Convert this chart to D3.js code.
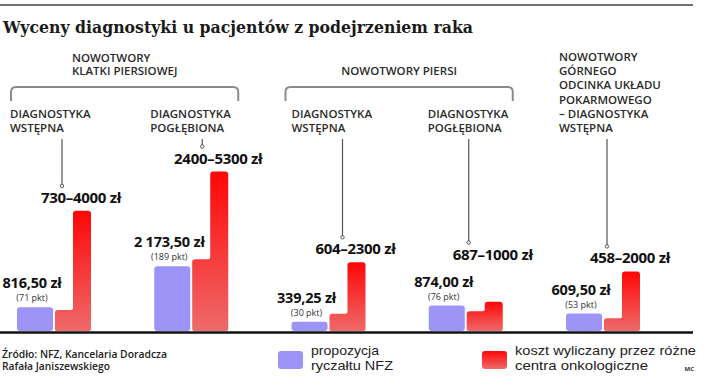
<!DOCTYPE html>
<html><head><meta charset="utf-8">
<script src="https://cdn.jsdelivr.net/npm/d3@7"></script>
<style>
html,body{margin:0;padding:0;background:#fff;}
svg{display:block;}
text{font-family:"Open Sans",sans-serif;}
</style></head>
<body>
<svg id="chart" width="716" height="390"></svg>
<script>
// ---- data ----
const title = "Wyceny diagnostyki u pacjentów z podejrzeniem raka";
const categoryIds = ["klatka-wstepna","klatka-poglebiona","piersi-wstepna","piersi-poglebiona","gorny-wstepna"];
const categoryLabels = [
  ["DIAGNOSTYKA","WSTĘPNA"],
  ["DIAGNOSTYKA","POGŁĘBIONA"],
  ["DIAGNOSTYKA","WSTĘPNA"],
  ["DIAGNOSTYKA","POGŁĘBIONA"],
  ["NOWOTWORY","GÓRNEGO","ODCINKA UKŁADU","POKARMOWEGO","– DIAGNOSTYKA","WSTĘPNA"]
];
const groupNames = [["NOWOTWORY","KLATKI PIERSIOWEJ"],["NOWOTWORY PIERSI"]];
const groupMembers = [[0,1],[2,3]];
const nfzValues = [816.50, 2173.50, 339.25, 874.00, 609.50];
const nfzLabels = ["816,50 zł","2 173,50 zł","339,25 zł","874,00 zł","609,50 zł"];
const nfzPoints = ["(71 pkt)","(189 pkt)","(30 pkt)","(76 pkt)","(53 pkt)"];
const costMin = [730, 2400, 604, 687, 458];
const costMax = [4000, 5300, 2300, 1000, 2000];
const costLabels = ["730–4000 zł","2400–5300 zł","604–2300 zł","687–1000 zł","458–2000 zł"];
const legendLabels = [["propozycja","ryczałtu NFZ"],["koszt wyliczany przez różne","centra onkologiczne"]];
const sourceLines = ["Źródło: NFZ, Kancelaria Doradcza","Rafała Janiszewskiego"];
const credit = "MC";

// ---- layout ----
const svg = d3.select("#chart");
const baseY = 332;
const blue = "#9c94f6";
const defs = svg.append("defs");
const grad = defs.append("linearGradient").attr("id","redGrad")
  .attr("x1",0).attr("y1",0).attr("x2",0).attr("y2",1);
grad.append("stop").attr("offset","0%").attr("stop-color","#ff0606");
grad.append("stop").attr("offset","100%").attr("stop-color","#ee6a6a");

const x = d3.scaleBand().domain(categoryIds).range([17, 640]).paddingInner(0.4608).paddingOuter(0);
const sub = d3.scaleBand().domain(["nfz","cost"]).range([0, x.bandwidth()]).paddingInner(0.05).paddingOuter(0);
const y = d3.scaleLinear().domain([0, 5300]).range([baseY, 171.5]);

// top rule
svg.append("line").attr("x1",0).attr("x2",693).attr("y1",5).attr("y2",5)
  .attr("stroke","#6f6f6f").attr("stroke-width",2);

// title
svg.append("text").attr("x",3).attr("y",33).text(title)
  .style("font-family","'DejaVu Serif',serif").style("font-weight","bold").style("font-size","17px")
  .attr("fill","#1a1a1a").attr("textLength",470).attr("lengthAdjust","spacingAndGlyphs");

const labelFont = {size:"11.5px", weight:"600", fill:"#2a2a2a"};

// group brackets + names
groupMembers.forEach((m,gi)=>{
  const x0 = x(categoryIds[m[0]]) - 6;
  const x1 = x(categoryIds[m[m.length-1]]) + x.bandwidth() + 10;
  const top = 87, bot = 101, r = 5;
  svg.append("path").attr("d",`M${x0},${bot} L${x0},${top+r} Q${x0},${top} ${x0+r},${top} L${x1-r},${top} Q${x1},${top} ${x1},${top+r} L${x1},${bot}`)
    .attr("fill","none").attr("stroke","#8a8a8a").attr("stroke-width",2);
  const cx = (x0+x1)/2;
  const lines = groupNames[gi];
  const g = svg.append("g");
  const ts = lines.map((t,i)=> g.append("text").attr("y", 75 - (lines.length-1-i)*13.5).text(t)
     .style("font-size",labelFont.size).style("font-weight",labelFont.weight).attr("fill",labelFont.fill));
  const w = d3.max(ts, t=>t.node().getComputedTextLength());
  ts.forEach(t=>t.attr("x", cx - w/2));
});

// category labels
const catDx = [-7,-4,0,-1,-7];
categoryIds.forEach((id,i)=>{
  const lines = categoryLabels[i];
  const lastY = 132;
  lines.forEach((t,j)=>{
    svg.append("text").attr("x", x(id)+catDx[i]).attr("y", lastY - (lines.length-1-j)*14.2)
      .text(t).style("font-size",labelFont.size).style("font-weight",labelFont.weight).attr("fill",labelFont.fill);
  });
});

// bars
const redW = sub.bandwidth();
const stepFrac = 0.5;
categoryIds.forEach((id,i)=>{
  const bx = x(id) + sub("nfz");
  const bw = sub.bandwidth();
  svg.append("rect").attr("x",bx).attr("y",y(nfzValues[i])).attr("width",bw)
    .attr("height",baseY - y(nfzValues[i]) - 1).attr("rx",3).attr("fill",blue);
  const rx0 = x(id) + sub("cost"), rx1 = rx0 + redW, rxm = rx0 + redW*stepFrac;
  const yMin = y(costMin[i]), yMax = y(costMax[i]), r = 3, b = baseY - 1;
  const d = `M${rx0},${b-2} L${rx0},${yMin+r} Q${rx0},${yMin} ${rx0+r},${yMin} L${rxm-2},${yMin} Q${rxm},${yMin} ${rxm},${yMin-2} L${rxm},${yMax+r} Q${rxm},${yMax} ${rxm+r},${yMax} L${rx1-r},${yMax} Q${rx1},${yMax} ${rx1},${yMax+r} L${rx1},${b-2} Q${rx1},${b} ${rx1-2},${b} L${rx0+2},${b} Q${rx0},${b} ${rx0},${b-2} Z`;
  svg.append("path").attr("d",d).attr("fill","url(#redGrad)");

  // NFZ labels
  const cxBlue = bx + bw/2 - 3;
  const topB = y(nfzValues[i]);
  svg.append("text").attr("x",cxBlue).attr("y",topB - 19).attr("text-anchor","middle")
    .text(nfzLabels[i]).style("font-size","14.5px").style("font-weight","bold").attr("fill","#111")
    .style("letter-spacing","-0.2px");
  svg.append("text").attr("x",cxBlue).attr("y",topB - 6).attr("text-anchor","middle")
    .text(nfzPoints[i]).style("font-size","9px").attr("fill","#333");

  // cost labels
  const cxUp = (rxm + rx1)/2 - 1;
  const ly = Math.min(yMax - 8, topB - 18 - 28);
  svg.append("text").attr("x",cxUp).attr("y",ly).attr("text-anchor","middle")
    .text(costLabels[i]).style("font-size","15px").style("font-weight","bold").attr("fill","#111")
    .style("letter-spacing","-0.3px");
});

// leader lines
const leaderDx = [45,48,51,40,41];
categoryIds.forEach((id,i)=>{
  const lx = x(id) + leaderDx[i];
  const yMax = y(costMax[i]);
  const topB = y(nfzValues[i]);
  const ly = Math.min(yMax - 8, topB - 18 - 28);
  const dotY = ly - 17;
  svg.append("line").attr("x1",lx).attr("x2",lx).attr("y1",139).attr("y2",dotY)
    .attr("stroke","#555").attr("stroke-width",1.2);
  svg.append("circle").attr("cx",lx).attr("cy",dotY).attr("r",1.7)
    .attr("fill","#fff").attr("stroke","#555").attr("stroke-width",1);
});

// baseline
svg.append("line").attr("x1",0).attr("x2",693).attr("y1",baseY+0.5).attr("y2",baseY+0.5)
  .attr("stroke","#111").attr("stroke-width",2.4);

// source
const srcW = [165,108];
sourceLines.forEach((t,i)=>{
  svg.append("text").attr("x",2).attr("y",358 + i*12).text(t)
    .style("font-size","9.8px").style("font-weight","600").attr("fill","#222")
    .attr("textLength",srcW[i]).attr("lengthAdjust","spacingAndGlyphs");
});

// legend
const legX = [278, 482];
const legTextW = [[68,82],[181,133]];
legendLabels.forEach((lines,i)=>{
  svg.append("rect").attr("x",legX[i]).attr("y",351).attr("width",25).attr("height",18).attr("rx",3)
    .attr("fill", i===0 ? blue : "url(#redGrad)");
  lines.forEach((t,j)=>{
    svg.append("text").attr("x",legX[i]+33).attr("y",355 + j*15.2).text(t)
      .style("font-family","'Liberation Sans',Arial,sans-serif")
      .style("font-size","13px").attr("fill","#222")
      .attr("textLength",legTextW[i][j]).attr("lengthAdjust","spacingAndGlyphs");
  });
});
svg.append("text").attr("x",694).attr("y",371).attr("text-anchor","end").text(credit)
  .style("font-size","6px").style("font-weight","bold").attr("fill","#333");
</script>
</body></html>
